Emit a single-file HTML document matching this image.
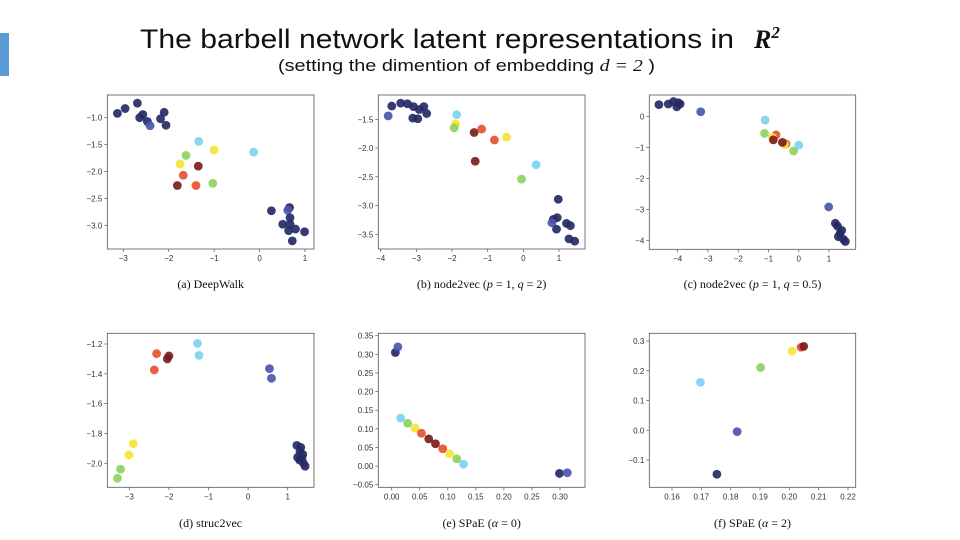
<!DOCTYPE html>
<html><head><meta charset="utf-8"><style>
html,body{margin:0;padding:0;background:#fff;}
svg{display:block;font-family:"Liberation Sans",sans-serif;}
.tk{font-size:8px;fill:#333;}
.cap{font-family:"Liberation Serif",serif;font-size:12px;fill:#111;}
</style></head><body>
<svg id="s" width="960" height="540" viewBox="0 0 960 540">
<rect x="0" y="33" width="9" height="43" fill="#5b9bd5"/>
<text x="140" y="48" font-size="27" textLength="594" lengthAdjust="spacingAndGlyphs" fill="#111">The barbell network latent representations in</text>
<text x="754" y="48" font-size="26" font-family="Liberation Serif,serif" font-weight="bold" font-style="italic" fill="#111">R<tspan dy="-10" font-size="17">2</tspan></text>
<text x="278" y="71" font-size="17" textLength="377" lengthAdjust="spacingAndGlyphs" fill="#111">(setting the dimention of embedding <tspan font-family="Liberation Serif,serif" font-style="italic">d = 2</tspan> )</text>
<g id="plots"></g>
</svg>
<script>
const colorMap={N:"#252a66",B:"#4b57ab",L:"#7dd3f2",G:"#8ed260",Y:"#f5e43a",O:"#e8512f",D:"#7a1e1c"};
// (a) DeepWalk
const aX=[-3.13,-2.96,-2.69,-2.64,-2.57,-2.47,-2.18,-2.1,-2.06,-2.41,-1.34,-0.13,-1.0,-1.75,-1.62,-1.03,-1.35,-1.81,-1.68,-1.4,0.26,0.66,0.62,0.67,0.51,0.67,0.79,0.64,0.99,0.72];
const aY=[-0.92,-0.83,-0.73,-1.0,-0.94,-1.07,-1.02,-0.9,-1.14,-1.15,-1.44,-1.64,-1.6,-1.86,-1.7,-2.22,-1.9,-2.26,-2.07,-2.26,-2.73,-2.67,-2.72,-2.86,-2.98,-2.98,-3.07,-3.1,-3.12,-3.29];
const aC=["N","N","N","N","N","N","N","N","N","B","L","L","Y","Y","G","G","D","D","O","O","N","N","B","N","N","N","N","N","N","N"];
const aXT=[-3,-2,-1,0,1], aYT=[-1.0,-1.5,-2.0,-2.5,-3.0];
const aXL=["\u22123","\u22122","\u22121","0","1"], aYL=["\u22121.0","\u22121.5","\u22122.0","\u22122.5","\u22123.0"];
// (b) node2vec p=1 q=2
const bX=[-3.69,-3.44,-3.25,-3.08,-2.92,-2.79,-2.71,-3.1,-2.96,-3.79,-1.87,0.36,-1.9,-0.47,-1.94,-0.05,-1.38,-1.35,-1.17,-0.81,0.98,0.84,0.95,0.8,0.93,1.21,1.32,1.28,1.44];
const bY=[-1.27,-1.22,-1.23,-1.28,-1.33,-1.28,-1.4,-1.48,-1.49,-1.44,-1.42,-2.29,-1.58,-1.81,-1.65,-2.54,-1.73,-2.23,-1.67,-1.86,-2.89,-3.24,-3.21,-3.3,-3.41,-3.31,-3.35,-3.58,-3.62];
const bC=["N","N","N","N","N","N","N","N","N","B","L","L","Y","Y","G","G","D","D","O","O","N","N","N","B","N","N","N","N","N"];
const bXT=[-4,-3,-2,-1,0,1], bYT=[-1.5,-2.0,-2.5,-3.0,-3.5];
const bXL=["\u22124","\u22123","\u22122","\u22121","0","1"], bYL=["\u22121.5","\u22122.0","\u22122.5","\u22123.0","\u22123.5"];
// (c) node2vec p=1 q=0.5
const cX=[-4.62,-4.31,-4.14,-3.98,-4.03,-3.92,-3.24,-1.11,0,-1.13,-0.17,-0.75,-0.42,-0.87,-0.47,-0.84,-0.54,0.99,1.21,1.28,1.37,1.42,1.31,1.54,1.48];
const cY=[0.39,0.41,0.49,0.45,0.32,0.41,0.16,-0.11,-0.92,-0.54,-1.11,-0.59,-0.88,-0.67,-0.9,-0.75,-0.83,-2.92,-3.45,-3.54,-3.77,-3.68,-3.88,-4.04,-3.97];
const cC=["N","N","N","N","N","N","B","L","L","G","G","O","O","Y","Y","D","D","B","N","N","N","N","N","N","N"];
const cXT=[-4,-3,-2,-1,0,1], cYT=[0,-1,-2,-3,-4];
const cXL=["\u22124","\u22123","\u22122","\u22121","0","1"], cYL=["0","\u22121","\u22122","\u22123","\u22124"];
// (d) struc2vec
const dX=[-1.28,-1.24,-2.31,-2.37,-2.0,-2.04,0.54,0.59,-2.9,-3.01,-3.22,-3.3,1.23,1.33,1.31,1.25,1.36,1.40,1.44,1.30,1.38];
const dY=[-1.196,-1.276,-1.265,-1.374,-1.28,-1.30,-1.365,-1.43,-1.868,-1.944,-2.04,-2.1,-1.88,-1.893,-1.92,-1.96,-1.966,-2.0,-2.02,-1.978,-1.94];
const dC=["L","L","O","O","D","D","B","B","Y","Y","G","G","N","N","N","N","N","N","N","N","N"];
const dXT=[-3,-2,-1,0,1], dYT=[-1.2,-1.4,-1.6,-1.8,-2.0];
const dXL=["\u22123","\u22122","\u22121","0","1"], dYL=["\u22121.2","\u22121.4","\u22121.6","\u22121.8","\u22122.0"];
// (e) SPaE alpha=0
const eX=[0.0065,0.011,0.016,0.0285,0.0416,0.053,0.066,0.078,0.091,0.103,0.116,0.128,0.299,0.313];
const eY=[0.305,0.32,0.129,0.115,0.102,0.088,0.073,0.06,0.0465,0.033,0.0197,0.005,-0.0197,-0.018];
const eC=["N","B","L","G","Y","O","D","D","O","Y","G","L","N","B"];
const eXT=[0,0.05,0.10,0.15,0.20,0.25,0.30], eYT=[0.35,0.30,0.25,0.20,0.15,0.10,0.05,0.00,-0.05];
const eXL=["0.00","0.05","0.10","0.15","0.20","0.25","0.30"], eYL=["0.35","0.30","0.25","0.20","0.15","0.10","0.05","0.00","\u22120.05"];
// (f) SPaE alpha=2
const fX=[0.1697,0.1822,0.1753,0.1902,0.2009,0.204,0.2049];
const fY=[0.161,-0.0045,-0.148,0.211,0.266,0.279,0.282];
const fC=["L","B","N","G","Y","O","D"];
const fXT=[0.16,0.17,0.18,0.19,0.20,0.21,0.22], fYT=[0.3,0.2,0.1,0.0,-0.1];
const fXL=["0.16","0.17","0.18","0.19","0.20","0.21","0.22"], fYL=["0.3","0.2","0.1","0.0","\u22120.1"];

const NS="http://www.w3.org/2000/svg";
const root=document.getElementById("plots");
function mk(tag,attrs,parent){const e=document.createElementNS(NS,tag);for(const k in attrs)e.setAttribute(k,attrs[k]);parent.appendChild(e);return e;}
function panel(id,box,xs,ys,xsv,ysv,cs,xt,xl,yt,yl,cap,capY,capHtml){
  const g=mk("g",{},root);
  
  
  const sx=v=>box.x0px+(v-box.x0)*(box.x1px-box.x0px)/(box.x1-box.x0);
  const sy=v=>box.y0px+(v-box.y0)*(box.y1px-box.y0px)/(box.y1-box.y0);
  const fr=mk("rect",{x:box.L,y:box.T,width:box.R-box.L,height:box.B-box.T,fill:"none",stroke:"#555","stroke-width":0.8},g);
  
  
  xt.forEach((v,i)=>{
    const x=sx(v);
    mk("line",{x1:x,x2:x,y1:box.B,y2:box.B+3,stroke:"#555","stroke-width":0.7},g);
    const t=mk("text",{x:x,y:box.B+12,"text-anchor":"middle",class:"tk"},g);
    
    
    t.textContent=xl[i];
  });
  yt.forEach((v,i)=>{
    const y=sy(v);
    mk("line",{x1:box.L-3,x2:box.L,y1:y,y2:y,stroke:"#555","stroke-width":0.7},g);
    const t=mk("text",{x:box.L-5,y:y+3,"text-anchor":"end",class:"tk"},g);
    
    
    t.textContent=yl[i];
  });
  xsv.forEach((v,i)=>{
    const c=mk("circle",{cx:sx(v),cy:sy(ysv[i]),r:4.4,fill:colorMap[cs[i]],"fill-opacity":0.92},g);
    
    
  });
  const t=mk("text",{x:(box.L+box.R)/2,y:capY,"text-anchor":"middle",class:"cap"},g);
  
  
  t.innerHTML=capHtml;
}
const top1={T:95,B:249}, top2={T:333.3,B:487.3};
panel("deepwalk",{L:107.3,R:314,T:95,B:249,x0:-3,x1:1,x0px:123.3,x1px:305,y0:-1,y1:-3,y0px:117.7,y1px:225.3},0,0,aX,aY,aC,aXT,aXL,aYT,aYL,0,288,"(a) DeepWalk");
panel("node2vec-q2",{L:378.3,R:585,T:95,B:249,x0:-4,x1:1,x0px:380.7,x1px:559,y0:-1.5,y1:-3.5,y0px:119.3,y1px:234.3},0,0,bX,bY,bC,bXT,bXL,bYT,bYL,0,288,'(b) node2vec (<tspan font-style="italic">p</tspan> = 1, <tspan font-style="italic">q</tspan> = 2)');
panel("node2vec-q05",{L:649.3,R:855.7,T:95,B:249.3,x0:-4,x1:1,x0px:677.7,x1px:829,y0:0,y1:-4,y0px:116.7,y1px:240.3},0,0,cX,cY,cC,cXT,cXL,cYT,cYL,0,288,'(c) node2vec (<tspan font-style="italic">p</tspan> = 1, <tspan font-style="italic">q</tspan> = 0.5)');
panel("struc2vec",{L:107.3,R:314,T:333.3,B:487.3,x0:-3,x1:1,x0px:129.3,x1px:287.7,y0:-1.2,y1:-2.0,y0px:344,y1px:463.3},0,0,dX,dY,dC,dXT,dXL,dYT,dYL,0,527,"(d) struc2vec");
panel("spae-a0",{L:378.3,R:585,T:333.3,B:487.3,x0:0,x1:0.3,x0px:391.7,x1px:560,y0:0.35,y1:-0.05,y0px:335.7,y1px:484.7},0,0,eX,eY,eC,eXT,eXL,eYT,eYL,0,527,'(e) SPaE (<tspan font-style="italic">α</tspan> = 0)');
panel("spae-a2",{L:649.3,R:855.7,T:333.3,B:487.3,x0:0.16,x1:0.22,x0px:672,x1px:848,y0:0.3,y1:-0.1,y0px:341,y1px:460},0,0,fX,fY,fC,fXT,fXL,fYT,fYL,0,527,'(f) SPaE (<tspan font-style="italic">α</tspan> = 2)');
</script>
</body></html>
